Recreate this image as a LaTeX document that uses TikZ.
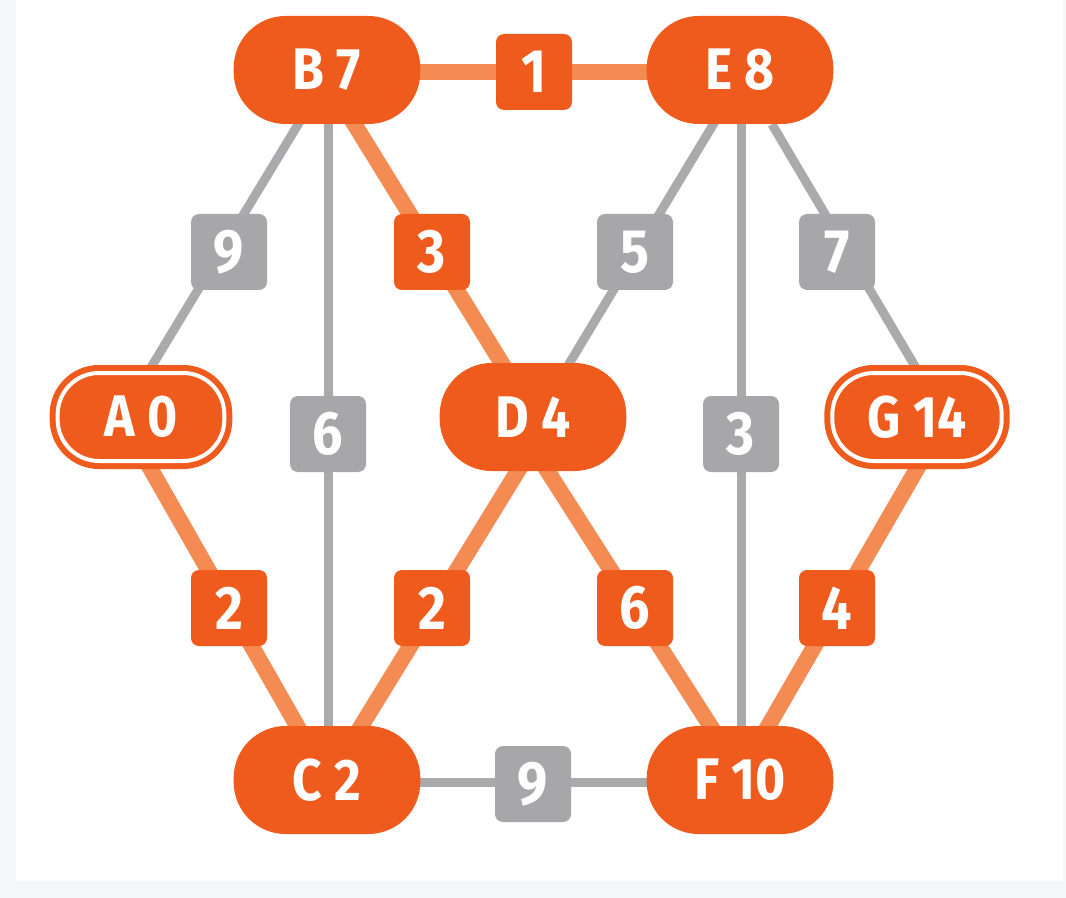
\documentclass[tikz,border=0pt]{standalone}
\usepackage{fontspec}
\setmainfont{Fira Sans}[FakeStretch=0.88]
\usetikzlibrary{calc}
\definecolor{nodeor}{HTML}{EF5B1C}
\definecolor{edgeor}{HTML}{F48B52}
\definecolor{boxgray}{HTML}{A7A7A9}
\definecolor{linegray}{HTML}{AAAAAC}
\definecolor{outerbg}{HTML}{F5F6F8}
\pgfdeclarelayer{back}
\pgfdeclarelayer{edges}
\pgfsetlayers{back,edges,main}
\begin{document}
\begin{tikzpicture}[x=0.75pt,y=-0.75pt,
  city/.style={rectangle, rounded corners=39pt, fill=nodeor, text=white,
    minimum width=140pt, minimum height=81pt, inner sep=0pt,
    font=\fontsize{44pt}{44pt}\selectfont\bfseries},
  endcity/.style={city, minimum width=125pt, minimum height=66pt,
    rounded corners=31pt, draw=nodeor, double=white, double distance=3pt,
    line width=4.5pt},
  wbox/.style={rectangle, rounded corners=6pt, minimum size=57pt, inner sep=0pt,
    text=white, font=\fontsize{46pt}{46pt}\selectfont\bfseries},
  obox/.style={wbox, fill=nodeor},
  gbox/.style={wbox, fill=boxgray},
  oedge/.style={edgeor, line width=12pt},
  gedge/.style={linegray, line width=6.75pt}]
\useasboundingbox (0,0) rectangle (1066,898);
\begin{pgfonlayer}{back}
  \fill[outerbg] (0,0) rectangle (1066,898);
  \fill[white] (16,0) rectangle (1063,881);
\end{pgfonlayer}
% cities
\node[city] (B) at (327,70) {B 7};
\node[city] (E) at (740,70) {E 8};
\node[endcity] (A) at (141,417) {A 0};
\node[city] (D) at (533,417) {D 4};
\node[endcity, minimum width=127pt] (G) at (917,417) {G 14};
\node[city] (C) at (327,780) {C 2};
\node[city] (F) at (740,780) {F 10};
% weights
\node[obox] (wBE) at (534,72) {1};
\node[gbox] (wAB) at (229,252) {9};
\node[obox] (wBD) at (432,252) {3};
\node[gbox] (wED) at (635,252) {5};
\node[gbox] (wEG) at (837,252) {7};
\node[gbox] (wBC) at (328,434) {6};
\node[gbox] (wEF) at (741,434) {3};
\node[obox] (wAC) at (229,608) {2};
\node[obox] (wDC) at (432,608) {2};
\node[obox] (wDF) at (635,608) {6};
\node[obox] (wGF) at (837,608) {4};
\node[gbox] (wCF) at (533,784) {9};
% edges
\begin{pgfonlayer}{edges}
  \draw[oedge] ($(B)+(0,2)$) -- ($(E)+(0,2)$);
  \draw[gedge] ($(C)+(0,2)$) -- ($(F)+(0,2)$);
  \draw[gedge] ($(B)+(4,0)$) -- ($(A)+(-20,0)$);
  \draw[oedge] ($(B)+(-6,0)$) -- ($(D)+(2,0)$);
  \draw[gedge] ($(E)+(6,0)$) -- ($(D)+(4,0)$);
  \draw[gedge] (E) -- ($(G)+(28,0)$);
  \draw[gedge] ($(B)+(1,0)$) -- ($(C)+(1,0)$);
  \draw[gedge] ($(E)+(1,0)$) -- ($(F)+(1,0)$);
  \draw[oedge] ($(A)+(-20,0)$) -- ($(C)+(1,0)$);
  \draw[oedge] ($(D)+(18,0)$) -- ($(C)+(1,0)$);
  \draw[oedge] ($(D)+(-20,0)$) -- ($(F)+(5,0)$);
  \draw[oedge] ($(G)+(30,0)$) -- ($(F)+(-3,0)$);
\end{pgfonlayer}
\end{tikzpicture}
\end{document}
